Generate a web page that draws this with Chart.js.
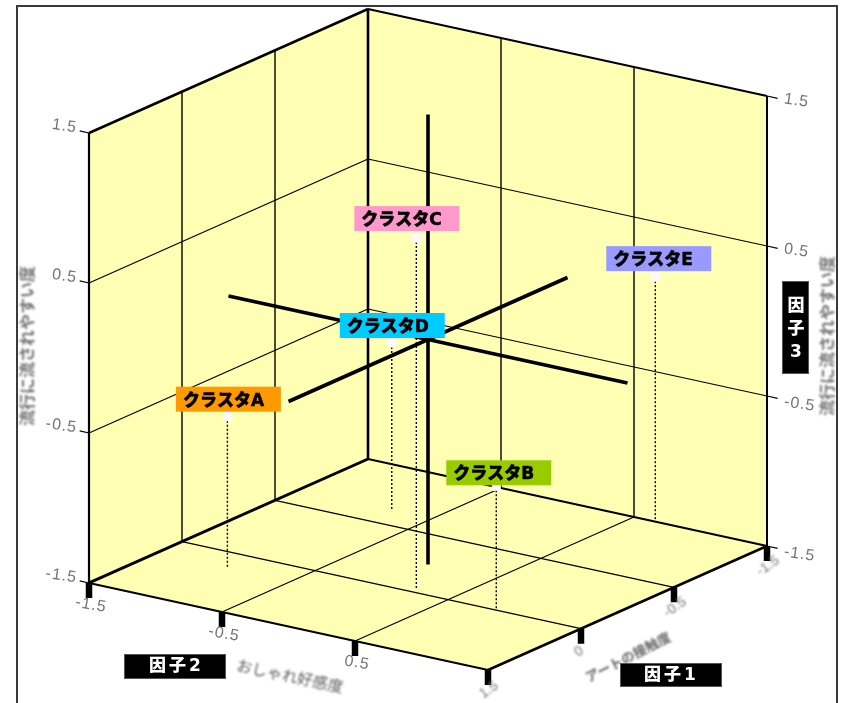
<!DOCTYPE html>
<html lang="ja">
<head>
<meta charset="utf-8">
<title>因子空間</title>
<style>
  html, body { margin: 0; background: #fff; }
  #wrap { position: relative; width: 842px; height: 703px; overflow: hidden; }
  #frame { position: absolute; left: 16px; top: 5px; width: 818px; height: 720px; border: 2px solid #3a3a3a; }
  canvas { position: absolute; left: 0; top: 0; }
</style>
<script src="https://cdn.jsdelivr.net/npm/chart.js@4"></script>
</head>
<body>
<div id="wrap">
  <div id="frame"></div>
  <canvas id="cube" width="842" height="703"></canvas>
</div>
<script>
// cluster scores on the three factors
const clusterNames = ['クラスタA', 'クラスタB', 'クラスタC', 'クラスタD', 'クラスタE'];
const factor1 = [0.77, 0.51, 0.44, -0.74, -1.5];
const factor2 = [-0.97, 0.87, 0.22, -0.79, 0.66];
const factor3 = [-0.49, -0.67, 0.84, -0.38, 0.13];
const clusterColors = ['#ff9900', '#99cc00', '#ff99cc', '#00ccff', '#9999ff'];

const axisMin = -1.5;
const axisMax = 1.5;
const gridValues = [-0.5, 0.5];
const factor3Ticks = [-1.5, -0.5, 0.5, 1.5];
const factor3Labels = ['-1.5', '-0.5', '0.5', '1.5'];
const factor2Ticks = [-1.5, -0.5, 0.5];
const factor2Labels = ['-1.5', '-0.5', '0.5'];
const factor1Ticks = [1.5, 0.5, -0.5, -1.5];
const factor1Labels = ['1.5', '0', '-0.5', '-1.5'];

const wallColor = '#ffffb3';

// oblique projection of a factor triple into the chart's value space
function project(f1, f2, f3) {
    const a = f1 - axisMin;
    const b = f2 - axisMin;
    const c = f3 - axisMin;
    return { x: 368 - 93 * a + 133 * b, y: 459 + 41.33 * a + 29 * b - 150 * c };
}

function polygon(corners) {
    return {
        data: corners.concat([corners[0]]).map(c => project(c[0], c[1], c[2])),
        showLine: true, borderWidth: 0, pointRadius: 0, fill: 'shape',
        backgroundColor: wallColor, borderColor: wallColor, clip: false
    };
}

function line(from, to, width, dash) {
    return {
        data: [project(from[0], from[1], from[2]), project(to[0], to[1], to[2])],
        showLine: true, borderWidth: width, borderColor: '#000', borderDash: dash || [],
        borderCapStyle: 'butt', pointRadius: 0, fill: false, clip: false
    };
}

const L = axisMin;
const H = axisMax;
const datasets = [
    polygon([[H, L, L], [L, L, L], [L, L, H], [H, L, H]]),
    polygon([[L, L, L], [L, H, L], [L, H, H], [L, L, H]]),
    polygon([[H, L, L], [L, L, L], [L, H, L], [H, H, L]])
];

// grid on the walls and the floor
gridValues.forEach(v => {
    datasets.push(line([H, L, v], [L, L, v], 1.2));
    datasets.push(line([L, L, v], [L, H, v], 1.2));
    datasets.push(line([v, L, L], [v, L, H], 1.4));
    datasets.push(line([L, v, L], [L, v, H], 1.4));
    datasets.push(line([v, L, L], [v, H, L], 1.2));
    datasets.push(line([H, v, L], [L, v, L], 1.2));
});

// small ticks running out past the walls
factor3Ticks.forEach(v => {
    datasets.push(line([H, L - 0.07, v], [H, L, v], 1.2));
    datasets.push(line([L, H, v], [L, H + 0.08, v], 1.2));
});

// cube edges
datasets.push(line([H, L, H], [L, L, H], 2.6));
datasets.push(line([L, L, H], [L, H, H], 2));
datasets.push(line([H, L, L], [H, L, H], 2.2));
datasets.push(line([L, L, L], [L, L, H], 2.6));
datasets.push(line([L, H, L], [L, H, H], 2));
datasets.push(line([H, L, L], [L, L, L], 3));
datasets.push(line([L, L, L], [L, H, L], 2));
datasets.push(line([H, L, L], [H, H, L], 2));
datasets.push(line([H, H, L], [L, H, L], 2.6));

// black blocks under the floor edge
factor2Ticks.concat([1.5]).forEach(v => {
    datasets.push(line([H, v, L], [H, v, L - 0.1], 6.5));
});
factor1Ticks.slice(1).forEach(v => {
    datasets.push(line([v, H, L], [v, H, L - 0.1], 6.5));
});

// thick axes through the centre
datasets.push(line([H, 0, 0], [L, 0, 0], 3.6));
datasets.push(line([0, L, 0], [0, H, 0], 3.6));
datasets.push(line([0, 0, L], [0, 0, H], 3.6));

// drop lines and cluster points
clusterNames.forEach((name, i) => {
    datasets.push(line([factor1[i], factor2[i], factor3[i]], [factor1[i], factor2[i], L], 1.4, [2, 2]));
});
datasets.push({
    data: clusterNames.map((name, i) => project(factor1[i], factor2[i], factor3[i])),
    showLine: false, pointStyle: 'rect', pointRadius: 6.5, pointBorderWidth: 0,
    pointBackgroundColor: '#fbf9fb', clip: false
});

// Chart.js paints the first dataset last, so flip the list to keep the walls underneath
datasets.reverse();

const gothic = '"Noto Sans CJK JP"';

function tiltedText(ctx, text, x, y, angle, font, color, align, blur, spacing, heft) {
    ctx.save();
    ctx.translate(x, y);
    ctx.rotate(angle * Math.PI / 180);
    ctx.font = font;
    ctx.fillStyle = color;
    ctx.textAlign = align;
    ctx.textBaseline = 'middle';
    if (blur) ctx.filter = 'blur(' + blur + 'px)';
    if (spacing) ctx.letterSpacing = spacing + 'px';
    ctx.fillText(text, 0, 0);
    if (heft) {
        ctx.strokeStyle = color;
        ctx.lineWidth = heft;
        ctx.strokeText(text, 0, 0);
    }
    ctx.restore();
}

function blackBox(ctx, left, top, width, height) {
    ctx.fillStyle = '#000';
    ctx.fillRect(left, top, width, height);
    ctx.strokeStyle = '#555';
    ctx.lineWidth = 1;
    ctx.strokeRect(left + 0.5, top + 0.5, width - 1, height - 1);
}

const annotations = {
    id: 'annotations',
    afterDatasetsDraw(chart) {
        const ctx = chart.ctx;
        const px = v => chart.scales.x.getPixelForValue(v);
        const py = v => chart.scales.y.getPixelForValue(v);
        const tickFont = '16px "Liberation Sans"';
        const smallFont = '14px "Liberation Sans"';
        const grey = '#757575';

        factor3Ticks.forEach((v, i) => {
            const left = project(H, L, v);
            const right = project(L, H, v);
            const low = v < 0;
            tiltedText(ctx, factor3Labels[i], px(left.x) - 12, py(left.y) - 5, 8, tickFont, grey, 'right', 0.7, 1);
            tiltedText(ctx, factor3Labels[i], px(right.x) + 17, py(right.y) + (low ? 6 : 3), 8, tickFont, grey, 'left', 0.7, 1);
        });
        factor2Ticks.forEach((v, i) => {
            const p = project(H, v, L);
            tiltedText(ctx, factor2Labels[i], px(p.x) + 2, py(p.y) + 22, 10, tickFont, grey, 'center', 0.7, 1);
        });
        factor1Ticks.forEach((v, i) => {
            const p = project(v, H, L);
            const nudge = factor1Labels[i].length === 1 ? [-3, 3] : [0, 0];
            tiltedText(ctx, factor1Labels[i], px(p.x) + 1 + nudge[0], py(p.y) + 20 + nudge[1], -35, smallFont, grey, 'center', 0.8, 0);
        });

        // axis captions
        const sideFont = 'bold 16px ' + gothic;
        tiltedText(ctx, '流行に流されやすい度', 27, 346, -90, sideFont, '#707070', 'center', 1);
        tiltedText(ctx, '流行に流されやすい度', 827, 336, -90, sideFont, '#707070', 'center', 1);
        tiltedText(ctx, 'おしゃれ好感度', 290, 676, 12, '15.5px ' + gothic, '#5a5a5a', 'center', 0.9);
        tiltedText(ctx, 'アートの接触度', 628, 657, -27, 'bold 13.5px ' + gothic, '#666', 'center', 0.9);

        // factor name plates
        const plateFont = '900 17px "DejaVu Sans", ' + gothic;
        blackBox(ctx, 124, 654, 102, 25);
        tiltedText(ctx, '因子2', 176.5, 667, 0, plateFont, '#fff', 'center', 0, 3);
        blackBox(ctx, 620, 663, 102, 24);
        tiltedText(ctx, '因子1', 671.5, 675.5, 0, plateFont, '#fff', 'center', 0, 3);
        blackBox(ctx, 782, 281, 27, 93);
        ['因', '子', '3'].forEach((ch, i) => {
            tiltedText(ctx, ch, 796, 307 + i * 23, 0, plateFont, '#fff', 'center');
        });

        // cluster name boxes sit on top of everything else
        const boxShift = [[-51.5, -5], [-50, -1], [-62, -7], [-52, -5], [-49, -6]];
        clusterNames.forEach((name, i) => {
            const p = project(factor1[i], factor2[i], factor3[i]);
            const left = px(p.x) + boxShift[i][0];
            const bottom = py(p.y) + boxShift[i][1];
            ctx.fillStyle = clusterColors[i];
            ctx.fillRect(left, bottom - 25, 105, 25);
            tiltedText(ctx, name, left + 7, bottom - 10.5, 0, plateFont, '#000', 'left', 0, 0, 0.5);
        });
    }
};

new Chart(document.getElementById('cube'), {
    type: 'scatter',
    data: { datasets: datasets },
    options: {
        responsive: false,
        animation: false,
        events: [],
        layout: { padding: 0, autoPadding: false },
        plugins: { legend: { display: false }, tooltip: { enabled: false } },
        scales: {
            x: { type: 'linear', display: false, min: 0, max: 842 },
            y: { type: 'linear', display: false, min: 0, max: 703, reverse: true }
        }
    },
    plugins: [annotations]
});
</script>
</body>
</html>
